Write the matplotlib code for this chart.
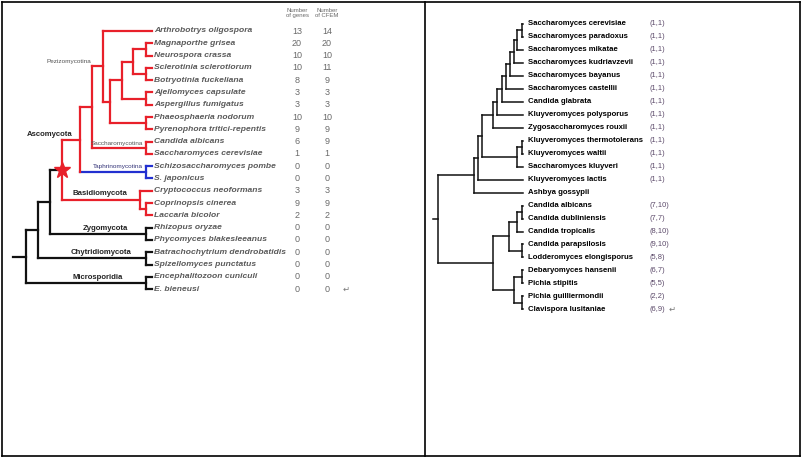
import matplotlib
matplotlib.use("Agg")
import matplotlib.pyplot as plt
from matplotlib import font_manager

W, H = 801, 458
RED, BLUE, BLK = "#e8202a", "#2230d0", "#111111"
_fonts = {f.name for f in font_manager.fontManager.ttflist}
SANS = "Liberation Sans" if "Liberation Sans" in _fonts else "DejaVu Sans"
NARROW = "Liberation Sans Narrow" if "Liberation Sans Narrow" in _fonts else SANS

# ---------- data: left panel (fungi, CFEM counts) ----------
left_species = ["Arthrobotrys oligospora", "Magnaporthe grisea", "Neurospora crassa",
                "Sclerotinia sclerotiorum", "Botryotinia fuckeliana", "Ajellomyces capsulate",
                "Aspergillus fumigatus", "Phaeosphaeria nodorum", "Pyrenophora tritici-repentis",
                "Candida albicans", "Saccharomyces cerevisiae", "Schizosaccharomyces pombe",
                "S. japonicus", "Cryptococcus neoformans", "Coprinopsis cinerea", "Laccaria bicolor",
                "Rhizopus oryzae", "Phycomyces blakesleeanus", "Batrachochytrium dendrobatidis",
                "Spizellomyces punctatus", "Encephalitozoon cuniculi", "E. bieneusi"]
left_genes = [13, 20, 10, 10, 8, 3, 3, 10, 9, 6, 1, 0, 0, 3, 9, 2, 0, 0, 0, 0, 0, 0]
left_cfem = [14, 20, 10, 11, 9, 3, 3, 10, 9, 9, 1, 0, 0, 3, 9, 2, 0, 0, 0, 0, 0, 0]

# ---------- data: right panel (yeasts, (genes, CFEM)) ----------
right_species = ["Saccharomyces cerevisiae", "Saccharomyces paradoxus", "Saccharomyces mikatae",
                 "Saccharomyces kudriavzevii", "Saccharomyces bayanus", "Saccharomyces castellii",
                 "Candida glabrata", "Kluyveromyces polysporus", "Zygosaccharomyces rouxii",
                 "Kluyveromyces thermotolerans", "Kluyveromyces waltii", "Saccharomyces kluyveri",
                 "Kluyveromyces lactis", "Ashbya gossypii", "Candida albicans", "Candida dubliniensis",
                 "Candida tropicalis", "Candida parapsilosis", "Lodderomyces elongisporus",
                 "Debaryomyces hansenii", "Pichia stipitis", "Pichia guilliermondii",
                 "Clavispora lusitaniae"]
right_counts = ["(1,1)"] * 13 + [""] + ["(7,10)", "(7,7)", "(8,10)", "(9,10)", "(5,8)",
                                        "(6,7)", "(5,5)", "(2,2)", "(6,9)"]


def node(d, kids, c=BLK, stem=None):
    return {"d": d, "kids": kids, "c": c, "stem": stem or c}


# node depth = distance from the root node, leaves are row indices
dikarya = node(36, [
    node(54, [
        node(66, [
            node(77, [0, node(84, [
                node(96, [node(107, [node(120, [1, 2], RED), node(120, [3, 4], RED)], RED),
                          node(120, [5, 6], RED)], RED),
                node(120, [7, 8], RED)], RED)], RED),
            node(120, [9, 10], RED)], RED),
        node(120, [11, 12], BLUE)], RED),
    node(114, [13, node(120, [14, 15], RED)], RED)], RED, stem=BLK)
left_tree = node(0, [node(12, [node(24, [dikarya, node(120, [16, 17])]), node(120, [18, 19])]),
                     node(120, [20, 21])])

right_tree = node(0, [
    node(36, [node(40, [node(44, [
        node(55, [node(59, [node(64, [node(68, [node(72, [node(76, [node(79, [node(84, [0, 1]), 2]),
                                                                   3]), 4]), 5]), 6]), 7]), 8]),
        node(79, [node(84, [9, 10]), 11])]), 12]), 13]),
    node(55, [
        node(71, [node(79, [node(84, [14, 15]), 16]), node(84, [17, 18])]),
        node(76, [node(84, [19, 20]), node(84, [21, 22])])])])


def draw(ax, n, parent, tip, lw):
    ys = []
    for k in n["kids"]:
        if isinstance(k, int):
            ax.plot([n["d"], tip], [k, k], color=n["c"], lw=lw, solid_capstyle="projecting")
            ys.append(k)
        else:
            ys.append(draw(ax, k, n["d"], tip, lw))
    y = (ys[0] + ys[-1]) / 2
    n["y"] = y
    ax.plot([n["d"], n["d"]], [ys[0], ys[-1]], color=n["c"], lw=lw, solid_capstyle="projecting")
    ax.plot([parent, n["d"]], [y, y], color=n["stem"], lw=lw, solid_capstyle="projecting")
    return y


fig = plt.figure(figsize=(W / 100, H / 100), dpi=100)


def ftxt(x, y, s, **kw):
    fig.text(x / W, 1 - y / H, s, **kw)


# frame
bg = fig.add_axes([0, 0, 1, 1])
bg.set_xlim(0, W); bg.set_ylim(H, 0); bg.axis("off")
for xs, ys in [([1.5, 799.5], [1.5, 1.5]), ([1.5, 799.5], [456, 456]), ([1.5, 1.5], [1.5, 456]),
               ([799.5, 799.5], [1.5, 456]), ([424.5, 424.5], [1.5, 456])]:
    bg.plot(xs, ys, color="black", lw=1.2)

# ---------- left panel ----------
axl = fig.add_axes([0, 0, 425 / W, 1])
axl.set_xlim(-26, 399)
axl.set_ylim((H - 31) / 12.29, -31 / 12.29)
axl.axis("off")
draw(axl, left_tree, -13, 126, 1.6)
axl.plot(dikarya["d"], dikarya["y"], marker="*", ms=12, color=RED, mec=RED)
for i, name in enumerate(left_species):
    axl.text(128, i, name, va="center", ha="left", fontsize=6.1, style="italic",
             fontweight="bold", color="#5a5a5a", family=SANS)
    axl.text(271, i, str(left_genes[i]), va="center", ha="center", fontsize=6.5, color="#6a6a6a", family=SANS)
    axl.text(301, i, str(left_cfem[i]), va="center", ha="center", fontsize=6.5, color="#6a6a6a", family=SANS)
ftxt(297, 13, "Number\nof genes", ha="center", va="center", fontsize=4.3, color="#6a6a6a",
     linespacing=1.0, family=SANS)
ftxt(327, 13, "Number\nof CFEM", ha="center", va="center", fontsize=4.3, color="#6a6a6a",
     linespacing=1.0, family=SANS)

small = dict(fontsize=4.6, va="center", family=SANS)
ftxt(91, 61, "Pezizomycotina", ha="right", color="#555555", **small)
ftxt(143, 143, "Saccharomycotina", ha="right", color="#555555", **small)
ftxt(143, 166.5, "Taphrinomycotina", ha="right", color="#333377", **small)
bold = dict(fontsize=5.6, va="center", fontweight="bold", color="#222222", family=SANS)
ftxt(27, 134, "Ascomycota", ha="left", **bold)
ftxt(100, 193.5, "Basidiomycota", ha="center", **bold)
ftxt(105, 228.5, "Zygomycota", ha="center", **bold)
ftxt(101, 253, "Chytridiomycota", ha="center", **bold)
ftxt(98, 277.5, "Microsporidia", ha="center", **bold)
ftxt(346, 289, "\u21b5", ha="center", va="center", fontsize=6, color="#777777", family="DejaVu Sans")

# ---------- right panel ----------
axr = fig.add_axes([425 / W, 0, 376 / W, 1])
axr.set_xlim(-13, 363)
axr.set_ylim((H - 24) / 12.97, -24 / 12.97)
axr.axis("off")
draw(axr, right_tree, -5, 85, 1.1)
for i, name in enumerate(right_species):
    axr.text(90, i, name, va="center", ha="left", fontsize=5.6, fontweight="bold",
             color="black", family=NARROW)
    axr.text(212, i, right_counts[i], va="center", ha="left", fontsize=5.4,
             color="#5c4a6a", family=SANS)
ftxt(672, 309, "\u21b5", ha="center", va="center", fontsize=6, color="#777777", family="DejaVu Sans")

fig.savefig("out.png", dpi=100)
